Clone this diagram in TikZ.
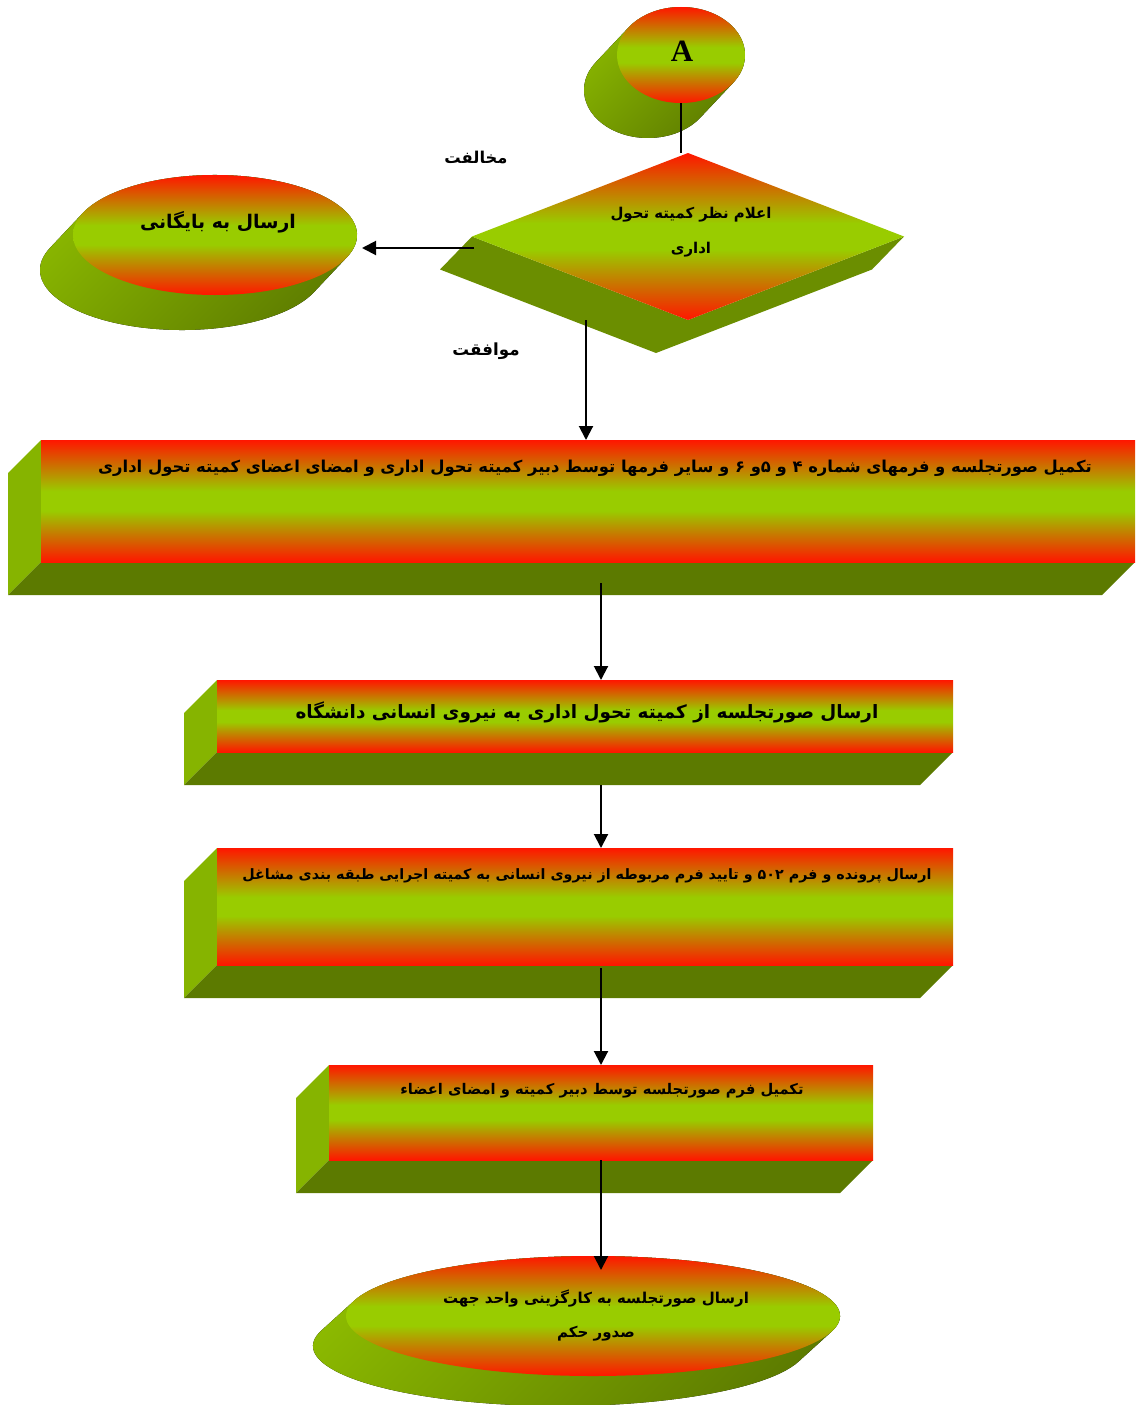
\documentclass[tikz,border=0pt]{standalone}
\usepackage{fontspec}
\usepackage{xcolor}
\usepackage{tikz}
\usetikzlibrary{shapes.geometric,arrows.meta,calc}
\TeXXeTstate=1
\newfontfamily\farsi[Script=Arabic]{DejaVu Sans}
\newfontfamily\titlefont{Liberation Serif}
\definecolor{flowRed}{RGB}{255, 22, 0}
\definecolor{flowGreen}{RGB}{153, 204, 0}
\definecolor{flowSide}{RGB}{134, 180, 0}
\definecolor{flowBase}{RGB}{92, 122, 0}
\definecolor{flowDeep}{RGB}{107, 142, 0}
\definecolor{flowLight}{RGB}{140, 186, 0}
\pgfdeclareverticalshading{flowBand}{100bp}{color(0bp)=(flowRed); color(25bp)=(flowRed);
  color(46bp)=(flowGreen); color(54bp)=(flowGreen); color(75bp)=(flowRed); color(100bp)=(flowRed)}
\pgfdeclarelayer{back}
\pgfsetlayers{back,main}

% side and base of a box
\newcommand{\boxdepth}[1]{%
\begin{pgfonlayer}{back}
\fill[flowSide] (#1.north west) -- ++(-33,33) -- ($(#1.south west)+(-33,33)$) -- (#1.south west) -- cycle;
\fill[flowBase] (#1.south west) -- (#1.south east) -- ++(-33,33) -- ($(#1.south west)+(-33,33)$) -- cycle;
\end{pgfonlayer}}

% body of an ellipse: node, x radius, y radius, shift x, shift y, tangent angle
\newcommand{\elldepth}[6]{%
\begin{pgfonlayer}{back}
\fill[top color=flowLight, bottom color=flowBase, shading angle=45]
  ($(#1.center)+(#4,#5)+(#6:#2 and #3)$)
  arc[start angle=#6, end angle={#6+180}, x radius=#2, y radius=#3]
  -- ($(#1.center)+({#6+180}:#2 and #3)$)
  arc[start angle={#6+180}, end angle={#6+360}, x radius=#2, y radius=#3] -- cycle;
\end{pgfonlayer}}

\tikzset{
  face/.style={draw=none, inner sep=0pt, outer sep=0pt, shading=flowBand},
  fa/.style={inner sep=0pt, align=center, text=black},
  link/.style={line width=2pt, black},
  flow/.style={link, -{Triangle[length=14pt,width=14pt]}}
}

\begin{document}
\begin{tikzpicture}[x=1pt, y=-1pt]
\useasboundingbox (0,0) rectangle (1135,1405);

% Connector A
\node[face, ellipse, minimum width=128, minimum height=96] (conA) at (681,55) {};
\elldepth{conA}{64}{48}{-33}{35}{35.3}
\node[font=\titlefont\bfseries\fontsize{31}{31}\selectfont] (conA-text) at (682,51) {A};

% Decision
\node[face, diamond, minimum width=432, minimum height=167] (review) at (688,236.5) {};
\begin{pgfonlayer}{back}
\fill[flowDeep] (review.west) -- ++(-32,33) -- ($(review.south)+(-32,33)$) -- ($(review.east)+(-32,33)$)
  -- (review.east) -- (review.south) -- cycle;
\end{pgfonlayer}
\node[fa, font=\farsi\bfseries\fontsize{14.9}{35}\selectfont] (review-text) at (691,232)
  {\beginR اعلام نظر کمیته تحول\endR\\\beginR اداری\endR};

\node[fa, font=\farsi\bfseries\fontsize{16.3}{16}\selectfont] (no-text) at (476,157) {\beginR مخالفت\endR};
\node[fa, font=\farsi\bfseries\fontsize{16.7}{16}\selectfont] (yes-text) at (486,351) {\beginR موافقت\endR};

% Archive
\node[face, ellipse, minimum width=284, minimum height=120] (archive) at (215,235) {};
\elldepth{archive}{142}{60}{-33}{35}{21.7}
\node[fa, font=\farsi\bfseries\fontsize{18.8}{18}\selectfont] (archive-text) at (218,222) {\beginR ارسال به  بایگانی\endR};

% Boxes
\node[face, minimum width=1094, minimum height=122, anchor=north west] (minutes) at (41,440) {};
\boxdepth{minutes}
\node[fa, font=\farsi\bfseries\fontsize{16.4}{16}\selectfont] (minutes-text) at (595,468)
  {\beginR تکمیل صورتجلسه و فرمهای شماره ۴ و ۵و ۶ و سایر فرمها توسط دبیر کمیته تحول اداری و امضای اعضای کمیته تحول اداری\endR};

\node[face, minimum width=736, minimum height=72, anchor=north west] (toHR) at (217,680) {};
\boxdepth{toHR}
\node[fa, font=\farsi\bfseries\fontsize{18.4}{18}\selectfont] (toHR-text) at (587,712)
  {\beginR ارسال صورتجلسه از کمیته تحول اداری به نیروی انسانی دانشگاه\endR};

\node[face, minimum width=736, minimum height=117, anchor=north west] (toBoard) at (217,848) {};
\boxdepth{toBoard}
\node[fa, font=\farsi\bfseries\fontsize{14.3}{14}\selectfont] (toBoard-text) at (587,876)
  {\beginR ارسال پرونده و فرم \beginL ۵۰۲\endL{} و تایید فرم مربوطه از نیروی انسانی به کمیته اجرایی طبقه بندی مشاغل\endR};

\node[face, minimum width=544, minimum height=95, anchor=north west] (signing) at (329,1065) {};
\boxdepth{signing}
\node[fa, font=\farsi\bfseries\fontsize{14.7}{15}\selectfont] (signing-text) at (602,1091)
  {\beginR تکمیل فرم صورتجلسه توسط دبیر کمیته و امضای اعضاء\endR};

% End
\node[face, ellipse, minimum width=494, minimum height=120] (decree) at (593,1316) {};
\elldepth{decree}{247}{60}{-33}{30}{15}
\node[fa, font=\farsi\bfseries\fontsize{15}{34}\selectfont] (decree-text) at (596,1315)
  {\beginR ارسال صورتجلسه به کارگزینی واحد جهت\endR\\\beginR صدور حکم\endR};

% Connectors
\coordinate (review-no) at (474,248);
\coordinate (archive-in) at (362,248);
\coordinate (review-yes) at (586,320);
\coordinate (minutes-in) at (586,440);
\coordinate (minutes-out) at (601,583);
\coordinate (toHR-in) at (601,680);
\coordinate (toHR-out) at (601,785);
\coordinate (toBoard-in) at (601,848);
\coordinate (toBoard-out) at (601,968);
\coordinate (signing-in) at (601,1065);
\coordinate (decree-in) at (601,1270);
\draw[link] (conA.south) -- (conA.south |- review.north);
\draw[flow] (review-no) -- (archive-in);
\draw[flow] (review-yes) -- (minutes-in);
\draw[flow] (minutes-out) -- (toHR-in);
\draw[flow] (toHR-out) -- (toBoard-in);
\draw[flow] (toBoard-out) -- (signing-in);
\draw[flow] (signing.south -| decree-in) -- (decree-in);
\end{tikzpicture}
\end{document}
